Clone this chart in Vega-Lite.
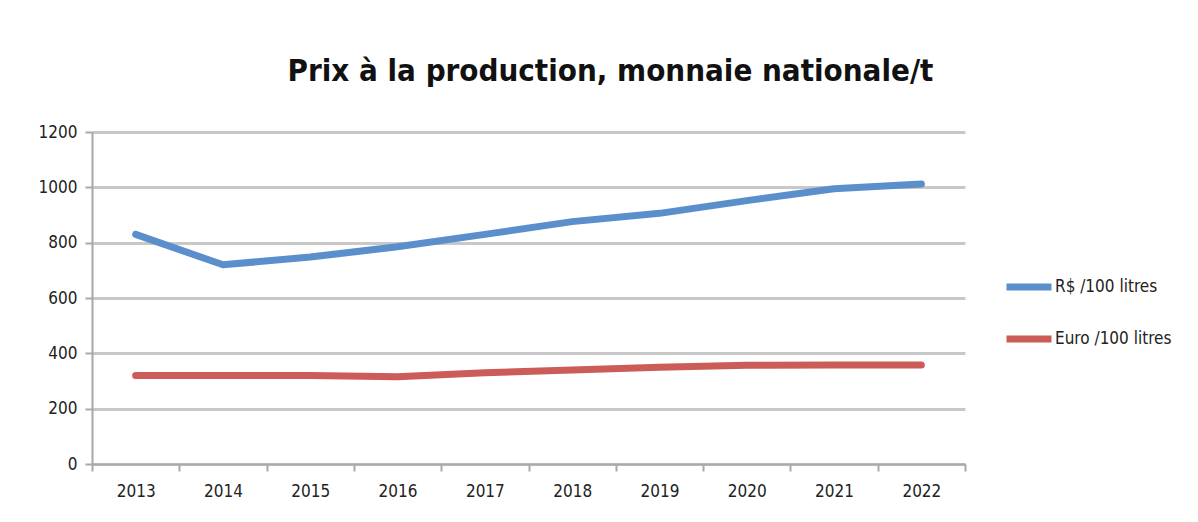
{
  "$schema": "https://vega.github.io/schema/vega-lite/v6.json",
  "autosize": {"type": "none"},
  "width": 873,
  "height": 332,
  "padding": {"left": 92, "top": 132, "right": 233, "bottom": 58},
  "background": "white",
  "title": {
    "text": "Prix à la production, monnaie nationale/t",
    "font": "DejaVu Sans Condensed, Liberation Sans, sans-serif",
    "fontSize": 31,
    "fontWeight": "bold",
    "color": "#111111",
    "anchor": "middle",
    "dx": 82,
    "offset": 35
  },
  "data": {
    "values": [
      {"annee": "2013", "serie": "R$ /100 litres", "valeur": 830},
      {"annee": "2014", "serie": "R$ /100 litres", "valeur": 720},
      {"annee": "2015", "serie": "R$ /100 litres", "valeur": 748},
      {"annee": "2016", "serie": "R$ /100 litres", "valeur": 785},
      {"annee": "2017", "serie": "R$ /100 litres", "valeur": 830},
      {"annee": "2018", "serie": "R$ /100 litres", "valeur": 876},
      {"annee": "2019", "serie": "R$ /100 litres", "valeur": 906},
      {"annee": "2020", "serie": "R$ /100 litres", "valeur": 952},
      {"annee": "2021", "serie": "R$ /100 litres", "valeur": 995},
      {"annee": "2022", "serie": "R$ /100 litres", "valeur": 1012},
      {"annee": "2013", "serie": "Euro /100 litres", "valeur": 320},
      {"annee": "2014", "serie": "Euro /100 litres", "valeur": 320},
      {"annee": "2015", "serie": "Euro /100 litres", "valeur": 320},
      {"annee": "2016", "serie": "Euro /100 litres", "valeur": 315},
      {"annee": "2017", "serie": "Euro /100 litres", "valeur": 330},
      {"annee": "2018", "serie": "Euro /100 litres", "valeur": 340},
      {"annee": "2019", "serie": "Euro /100 litres", "valeur": 350},
      {"annee": "2020", "serie": "Euro /100 litres", "valeur": 357},
      {"annee": "2021", "serie": "Euro /100 litres", "valeur": 358},
      {"annee": "2022", "serie": "Euro /100 litres", "valeur": 358}
    ]
  },
  "mark": {"type": "line", "strokeWidth": 7, "strokeCap": "round", "strokeJoin": "round"},
  "encoding": {
    "x": {
      "field": "annee",
      "type": "ordinal",
      "scale": {"type": "band", "paddingInner": 0, "paddingOuter": 0},
      "axis": {
        "title": null,
        "labelAngle": 0,
        "labelFont": "DejaVu Sans Condensed, Liberation Sans, sans-serif",
        "labelFontSize": 17,
        "labelColor": "#222222",
        "labelPadding": 12,
        "domainColor": "#a8a8a8",
        "domainWidth": 2,
        "tickColor": "#a8a8a8",
        "tickWidth": 2,
        "tickSize": 7,
        "tickBand": "extent",
        "grid": false
      }
    },
    "y": {
      "field": "valeur",
      "type": "quantitative",
      "scale": {"domain": [0, 1200], "nice": false},
      "axis": {
        "title": null,
        "values": [0, 200, 400, 600, 800, 1000, 1200],
        "format": "d",
        "labelFont": "DejaVu Sans Condensed, Liberation Sans, sans-serif",
        "labelFontSize": 17,
        "labelColor": "#222222",
        "labelPadding": 8,
        "domainColor": "#a8a8a8",
        "domainWidth": 2,
        "tickColor": "#a8a8a8",
        "tickWidth": 2,
        "tickSize": 7,
        "gridColor": "#c8c8c8",
        "gridWidth": 3
      }
    },
    "color": {
      "field": "serie",
      "type": "nominal",
      "scale": {"domain": ["R$ /100 litres", "Euro /100 litres"], "range": ["#5b8fcc", "#cc5c57"]},
      "legend": {
        "title": null,
        "orient": "none",
        "legendX": 911,
        "legendY": 129,
        "symbolType": "stroke",
        "symbolSize": 2025,
        "symbolStrokeWidth": 7,
        "labelFont": "DejaVu Sans Condensed, Liberation Sans, sans-serif",
        "labelFontSize": 17,
        "labelColor": "#222222",
        "labelOffset": 0,
        "rowPadding": 12
      }
    }
  },
  "config": {"view": {"stroke": null}}
}
